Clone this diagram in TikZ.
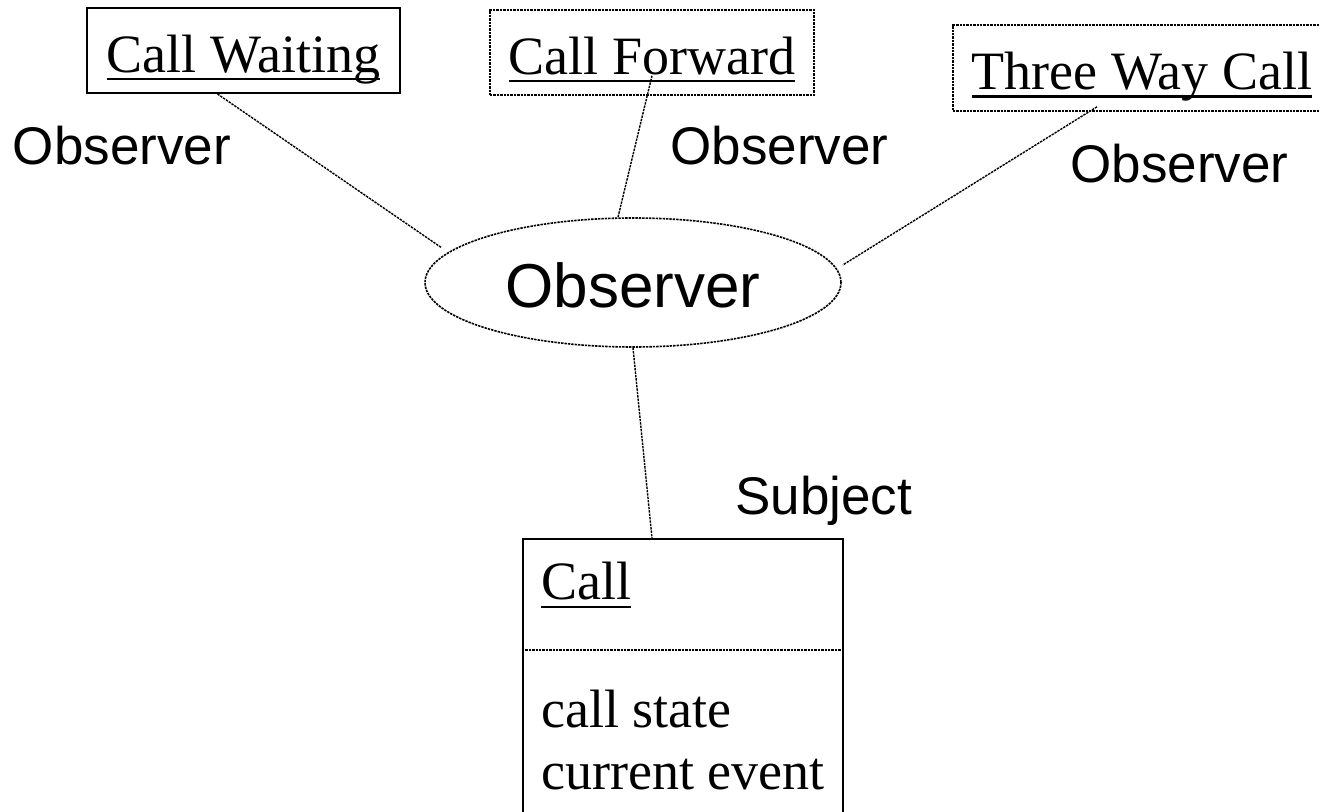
\documentclass[tikz,border=0pt]{standalone}
\usepackage{fontspec}
\setmainfont{Liberation Serif}
\setsansfont{Liberation Sans}
\usepackage{tikz}
\usetikzlibrary{shapes.geometric,calc}

% underline that ignores descenders
\newcommand{\ulname}[1]{\setbox0\hbox{#1}\rlap{\rule[-0.15em]{\wd0}{0.045em}}\box0}

\begin{document}
\begin{tikzpicture}[x=0.5pt,y=-0.5pt,
    serif/.style={font=\fontsize{27}{31}\selectfont},
    sans/.style={font=\sffamily\fontsize{26.5}{31}\selectfont},
    finedot/.style={dash pattern=on 1.2pt off 0.5pt},
    classbox/.style={draw,rectangle,inner sep=0,serif,text height=24.3pt,text depth=2.7pt},
    conn/.style={line width=0.7pt,finedot},
    role/.style={sans,anchor=base west,inner sep=0}]
  \useasboundingbox (0,0) rectangle (1319,812);

  % feature boxes
  \node[classbox,line width=1pt,minimum width=156.5pt,minimum height=42.5pt] (cw) at (243.5,50.5) {\ulname{Call Waiting}};
  \node[classbox,line width=0.8pt,finedot,minimum width=162pt,minimum height=42.5pt] (cf) at (652,52.5) {\ulname{Call Forward}};
  \node[classbox,line width=0.8pt,finedot,minimum width=189pt,minimum height=43pt] (tw) at (1142,68) {\ulname{Three Way Call}};

  % observer
  \node[ellipse,draw,line width=0.8pt,finedot,inner sep=0,minimum width=208pt,minimum height=64.5pt,
        font=\sffamily\fontsize{31}{36}\selectfont,text height=27.9pt,text depth=2.4pt] (obs) at (633,282.5) {Observer};

  % subject
  \node[draw,rectangle,line width=1pt,anchor=north west,minimum width=160pt,minimum height=146pt] (call) at (522,538) {};
  \draw[finedot,line width=0.8pt] ([shift={(0,112)}]call.north west) -- ([shift={(0,112)}]call.north east);
  \node[serif,anchor=base west,inner sep=0] (callname) at (541,600) {\ulname{Call}};
  \node[serif,anchor=base west,inner sep=0] (callstate) at (541,728) {call state};
  \node[serif,anchor=base west,inner sep=0] (callevent) at (541,790) {current event};

  % links
  \draw[conn] ([xshift=-13pt]cw.south) -- ([shift={(-10,-3)}]obs.170);
  \draw[conn] ([shift={(0,-20)}]cf.south) -- ([shift={(-15,0)}]obs.north);
  \draw[conn] ([shift={(-45,-5)}]tw.south) -- ([shift={(1,-17.5)}]obs.east);
  \draw[conn] (obs.south) -- ([shift={(-31,0)}]call.north);

  % roles
  \node[role] (roleA) at (12.5,165) {Observer};
  \node[role] (roleB) at (670,165) {Observer};
  \node[role] (roleC) at (1070,183) {Observer};
  \node[role] (roleD) at (735,515) {Subject};
\end{tikzpicture}
\end{document}
